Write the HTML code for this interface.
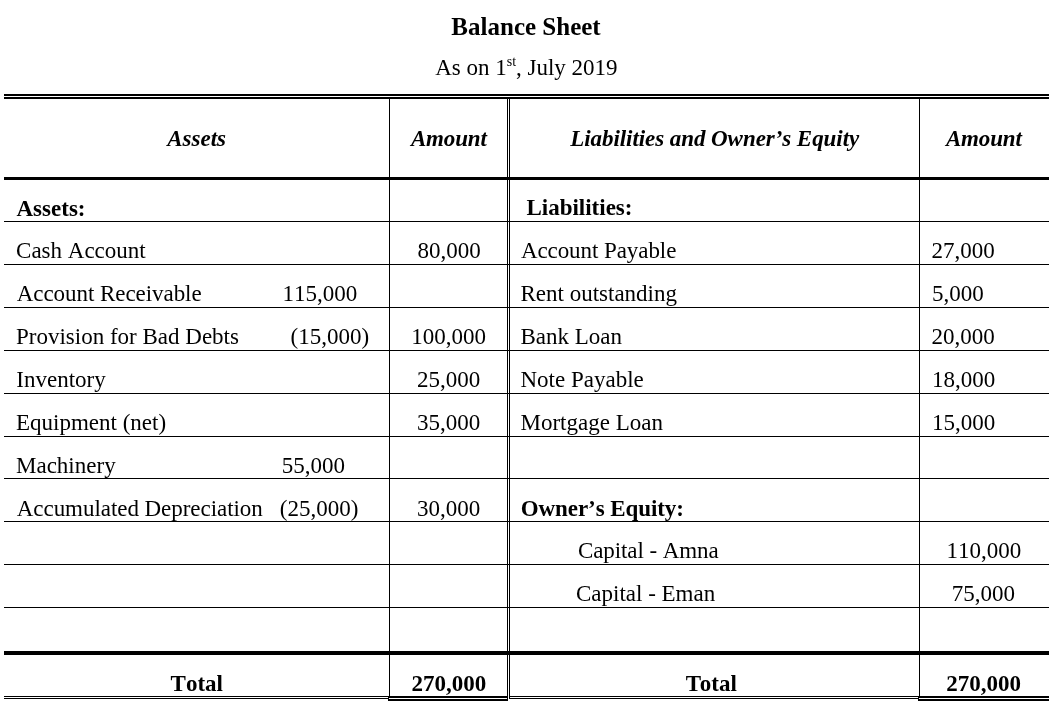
<!DOCTYPE html>
<html><head><meta charset="utf-8"><style>
html,body{margin:0;padding:0;background:#fff;}
body{width:1061px;height:705px;position:relative;overflow:hidden;font-family:"Liberation Serif",serif;color:#000;font-kerning:none;}
.t{position:absolute;white-space:nowrap;line-height:23px;font-size:23px;}
.b{font-weight:bold;}
.i{font-style:italic;}
.l{position:absolute;background:#000;}
.sup{font-size:14px;position:relative;top:-9px;}
</style></head><body><div style="position:absolute;left:0;top:0;width:1061px;height:705px;will-change:transform">
<div class="l" style="left:4px;top:94px;width:1045px;height:2px"></div>
<div class="l" style="left:4px;top:97px;width:1045px;height:2px"></div>
<div class="l" style="left:4px;top:177px;width:1045px;height:3px"></div>
<div class="l" style="left:4px;top:221px;width:1045px;height:1px"></div>
<div class="l" style="left:4px;top:264px;width:1045px;height:1px"></div>
<div class="l" style="left:4px;top:307px;width:1045px;height:1px"></div>
<div class="l" style="left:4px;top:350px;width:1045px;height:1px"></div>
<div class="l" style="left:4px;top:393px;width:1045px;height:1px"></div>
<div class="l" style="left:4px;top:436px;width:1045px;height:1px"></div>
<div class="l" style="left:4px;top:478px;width:1045px;height:1px"></div>
<div class="l" style="left:4px;top:521px;width:1045px;height:1px"></div>
<div class="l" style="left:4px;top:564px;width:1045px;height:1px"></div>
<div class="l" style="left:4px;top:607px;width:1045px;height:1px"></div>
<div class="l" style="left:4px;top:651px;width:1045px;height:4px"></div>
<div class="l" style="left:389px;top:97px;width:1px;height:600px"></div>
<div class="l" style="left:507px;top:97px;width:1px;height:604px"></div>
<div class="l" style="left:509px;top:97px;width:1px;height:602px"></div>
<div class="l" style="left:919px;top:97px;width:1px;height:600px"></div>
<div class="l" style="left:4px;top:696px;width:384px;height:1px"></div>
<div class="l" style="left:4px;top:698px;width:384px;height:1px"></div>
<div class="l" style="left:509px;top:696px;width:409px;height:1px"></div>
<div class="l" style="left:509px;top:698px;width:409px;height:1px"></div>
<div class="l" style="left:388px;top:696px;width:119px;height:2px"></div>
<div class="l" style="left:388px;top:699px;width:119px;height:2px"></div>
<div class="l" style="left:388px;top:696px;width:1px;height:5px"></div>
<div class="l" style="left:918px;top:696px;width:131px;height:2px"></div>
<div class="l" style="left:918px;top:699px;width:131px;height:2px"></div>
<div class="l" style="left:918px;top:696px;width:1px;height:5px"></div>
<div class="t b" id="t0" style="left:451.36px;top:14px;font-size:25px;line-height:25px">Balance Sheet</div>
<div class="t" id="t1" style="left:435.13px;top:56px">As on 1<span class='sup'>st</span>, July 2019</div>
<div class="t b i" id="t2" style="left:167.28px;top:127px">Assets</div>
<div class="t b i" id="t3" style="left:410.90px;top:127px;letter-spacing:-0.15px">Amount</div>
<div class="t b i" id="t4" style="left:570.19px;top:127px;letter-spacing:-0.06px">Liabilities and Owner’s Equity</div>
<div class="t b i" id="t5" style="left:945.90px;top:127px;letter-spacing:-0.15px">Amount</div>
<div class="t b" id="t6" style="left:16.51px;top:197px">Assets:</div>
<div class="t b" id="t7" style="left:526.42px;top:196px">Liabilities:</div>
<div class="t" id="t8" style="left:16.05px;top:239px">Cash Account</div>
<div class="t" id="t9" style="left:417.52px;top:239px">80,000</div>
<div class="t" id="t10" style="left:520.88px;top:239px;letter-spacing:-0.07px">Account Payable</div>
<div class="t" id="t11" style="left:931.59px;top:239px">27,000</div>
<div class="t" id="t12" style="left:16.75px;top:282px;letter-spacing:-0.055px">Account Receivable</div>
<div class="t" id="t13" style="left:282.38px;top:282px">115,000</div>
<div class="t" id="t14" style="left:520.47px;top:282px">Rent outstanding</div>
<div class="t" id="t15" style="left:931.90px;top:282px">5,000</div>
<div class="t" id="t16" style="left:16.01px;top:325px">Provision for Bad Debts</div>
<div class="t" id="t17" style="left:290.54px;top:325px">(15,000)</div>
<div class="t" id="t18" style="left:411.29px;top:325px">100,000</div>
<div class="t" id="t19" style="left:520.47px;top:325px">Bank Loan</div>
<div class="t" id="t20" style="left:931.52px;top:325px">20,000</div>
<div class="t" id="t21" style="left:16.30px;top:368px">Inventory</div>
<div class="t" id="t22" style="left:416.97px;top:368px">25,000</div>
<div class="t" id="t23" style="left:520.47px;top:368px">Note Payable</div>
<div class="t" id="t24" style="left:932.05px;top:368px">18,000</div>
<div class="t" id="t25" style="left:16.01px;top:411px">Equipment (net)</div>
<div class="t" id="t26" style="left:417.04px;top:411px">35,000</div>
<div class="t" id="t27" style="left:520.47px;top:411px">Mortgage Loan</div>
<div class="t" id="t28" style="left:932.05px;top:411px">15,000</div>
<div class="t" id="t29" style="left:16.01px;top:454px">Machinery</div>
<div class="t" id="t30" style="left:281.83px;top:454px">55,000</div>
<div class="t" id="t31" style="left:16.75px;top:497px;letter-spacing:-0.048px">Accumulated Depreciation</div>
<div class="t" id="t32" style="left:279.86px;top:497px">(25,000)</div>
<div class="t" id="t33" style="left:417.04px;top:497px">30,000</div>
<div class="t b" id="t34" style="left:520.78px;top:497px;letter-spacing:-0.079px">Owner’s Equity:</div>
<div class="t" id="t35" style="left:577.91px;top:539px;letter-spacing:-0.085px">Capital - Amna</div>
<div class="t" id="t36" style="left:946.38px;top:539px">110,000</div>
<div class="t" id="t37" style="left:575.96px;top:582px">Capital - Eman</div>
<div class="t" id="t38" style="left:951.85px;top:582px">75,000</div>
<div class="t b" id="t39" style="left:170.57px;top:672px">Total</div>
<div class="t b" id="t40" style="left:411.58px;top:672px">270,000</div>
<div class="t b" id="t41" style="left:685.66px;top:672px"><span style='margin-right:-1.2px'>T</span>otal</div>
<div class="t b" id="t42" style="left:946.21px;top:672px">270,000</div>
</div></body></html>
